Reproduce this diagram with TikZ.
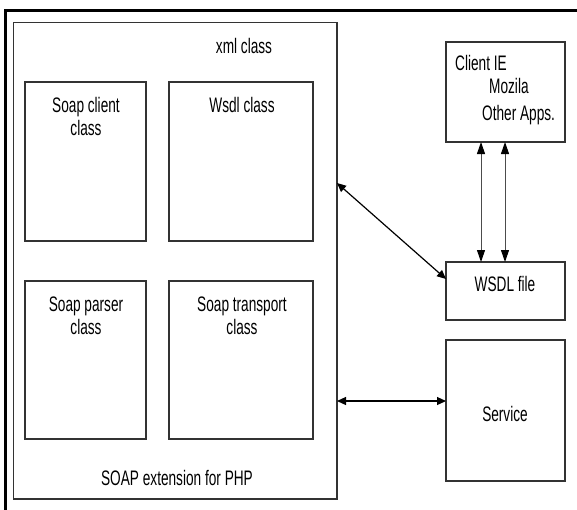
\documentclass[tikz,border=0pt]{standalone}
\usepackage{fontspec}
\setmainfont[FakeStretch=0.65]{Liberation Sans}
\usetikzlibrary{arrows.meta}
\begin{document}
\begin{tikzpicture}[x=1pt,y=-1pt,
  box/.style={draw=black!80,line width=1.1pt,inner sep=0pt,outer sep=0pt,anchor=north west},
  txt/.style={inner sep=0pt,anchor=base,font=\fontsize{21}{25}\selectfont},
  link/.style={line width=1.2pt,{Triangle[length=9pt,width=8pt]}-{Triangle[length=9pt,width=8pt]}},
  vlink/.style={draw=black!70,line width=1pt,
    {Triangle[length=12pt,width=8pt,color=black]}-{Triangle[length=12pt,width=8pt,color=black]}}]
\useasboundingbox (0,0) rectangle (577,509);
\clip (0,0) rectangle (577,509);
\fill[white] (0,0) rectangle (577,509);
% frame around everything
\draw[line width=3pt] (5.5,10) rectangle (620,560);

% SOAP extension and its classes
\node[box,minimum width=323.5pt,minimum height=476.5pt] (ext) at (13.5,22.5) {};
\node[box,minimum width=121pt,minimum height=159pt] (client) at (25,82) {};
\node[box,minimum width=144pt,minimum height=159pt] (wsdl) at (169,82) {};
\node[box,minimum width=121pt,minimum height=158pt] (parser) at (25,281) {};
\node[box,minimum width=144pt,minimum height=158pt] (transport) at (169,281) {};

\node[txt] (xmlt) at (244,53) {xml class};
\node[txt] (clientt1) at (86,112) {Soap client};
\node[txt] (clientt2) at (86,135) {class};
\node[txt] (wsdlt) at (242,112) {Wsdl class};
\node[txt] (parsert1) at (86,311) {Soap parser};
\node[txt] (parsert2) at (86,334) {class};
\node[txt] (transportt1) at (242,311) {Soap transport};
\node[txt] (transportt2) at (242,334) {class};
\node[txt] (extt) at (177,485) {SOAP extension for PHP};

% right column
\node[box,minimum width=119pt,minimum height=100pt] (apps) at (446,42) {};
\node[box,minimum width=119pt,minimum height=58pt] (wsdlfile) at (446,262) {};
\node[box,minimum width=119pt,minimum height=141pt] (service) at (446,340) {};

\node[txt,anchor=base west] (appst1) at (455,70) {Client IE};
\node[txt,anchor=base west] (appst2) at (489,93) {Mozila};
\node[txt,anchor=base west] (appst3) at (482,120) {Other Apps.};
\node[txt] (wsdlfilet) at (505,291) {WSDL file};
\node[txt] (servicet) at (505,421) {Service};

% connectors
\draw[vlink] (apps.south -| 481,0) -- (wsdlfile.north -| 481,0);
\draw[vlink] (apps.south -| 505,0) -- (wsdlfile.north -| 505,0);
\draw[link] (ext.east |- 0,183) -- (wsdlfile.west |- 0,279);
\draw[link] (ext.east |- 0,401) -- (service.west |- 0,401);
\end{tikzpicture}
\end{document}
